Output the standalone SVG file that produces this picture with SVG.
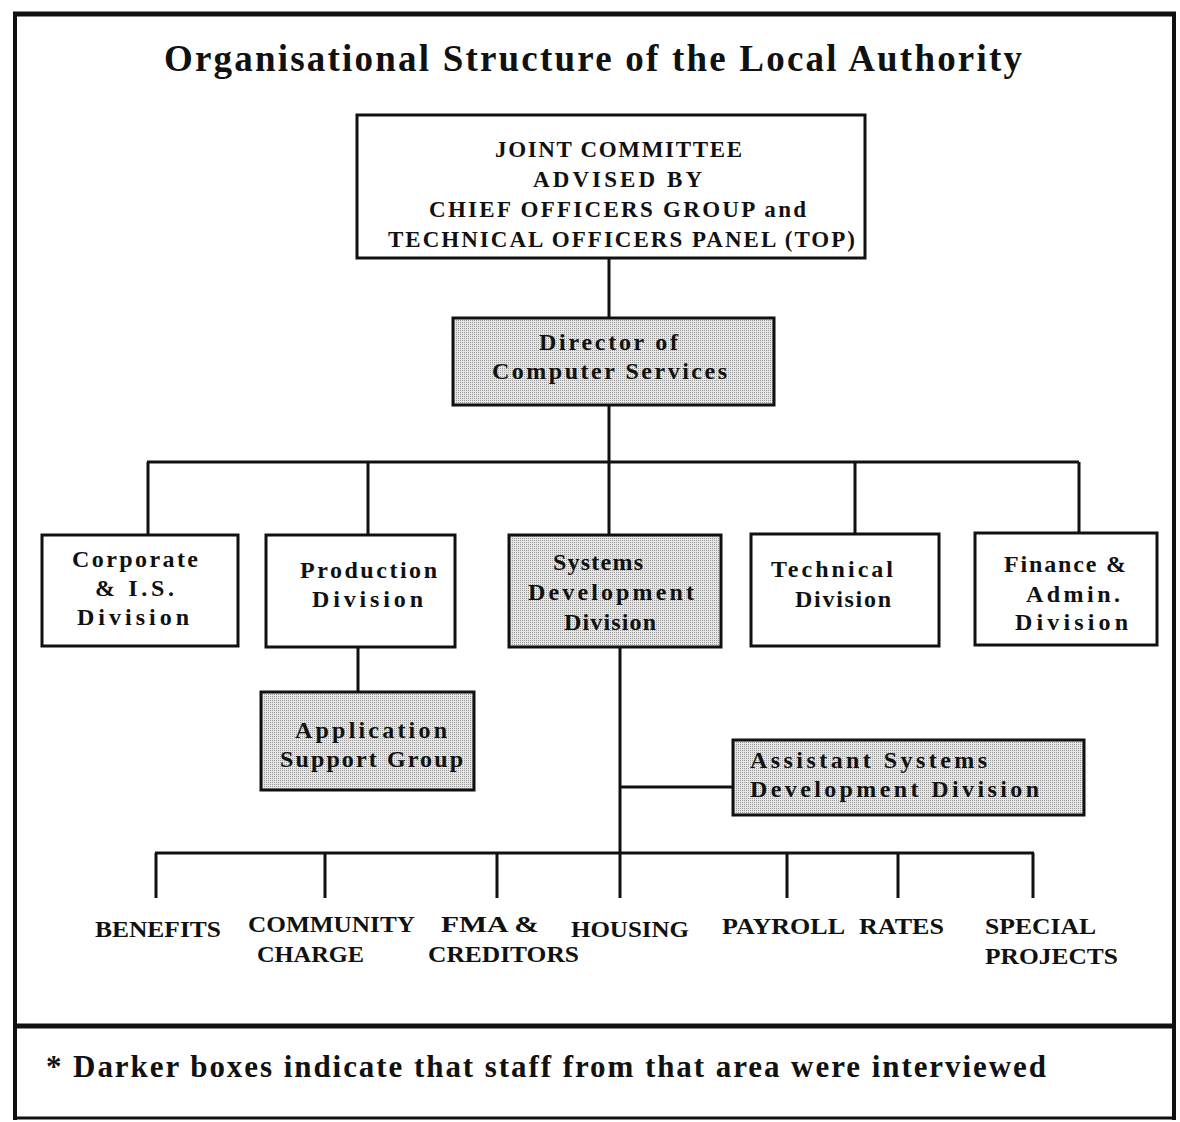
<svg xmlns="http://www.w3.org/2000/svg" width="1180" height="1122" viewBox="0 0 1180 1122">
  <style>
    .frame { fill: none; stroke: #111; }
    .box { fill: #fff; stroke: #111; stroke-width: 3; }
    .shaded { fill: url(#halftone); stroke: #111; stroke-width: 3; }
    .wire { fill: none; stroke: #111; stroke-width: 3; }
    text { font-family: "Liberation Serif", "Times New Roman", serif; font-weight: bold; fill: #111; }
    .title { font-size: 37px; }
    .head { font-size: 23px; }
    .lbl { font-size: 24px; }
    .leaf { font-size: 24px; }
    .note { font-size: 31px; }
  </style>
  <defs>
    <!-- fine dot screen used for the darker boxes -->
    <pattern id="halftone" width="2" height="2" patternUnits="userSpaceOnUse">
      <rect width="2" height="2" fill="#e6e6e6"/>
      <rect x="0" y="0" width="1" height="1" fill="#9a9a9a"/>
    </pattern>
  </defs>

  <rect width="1180" height="1122" fill="#fff"/>

  <!-- outer frame and footer divider -->
  <g id="frame">
    <line class="frame" x1="13" y1="14" x2="1176" y2="14" stroke-width="5"/>
    <line class="frame" x1="15" y1="12" x2="15" y2="1120" stroke-width="4"/>
    <line class="frame" x1="1174" y1="12" x2="1174" y2="1120" stroke-width="4"/>
    <line class="frame" x1="13" y1="1118" x2="1176" y2="1118" stroke-width="3"/>
    <line class="frame" x1="13" y1="1026" x2="1176" y2="1026" stroke-width="5"/>
  </g>

  <text class="title" x="164" y="71" textLength="858" lengthAdjust="spacing">Organisational Structure of the Local Authority</text>

  <!-- connectors -->
  <g id="connectors">
    <path class="wire" d="M609 258 V318"/>
    <path class="wire" d="M609 405 V462"/>
    <path class="wire" d="M147 462 H1079"/>
    <path class="wire" d="M148 462 V535 M368 462 V535 M609 462 V535 M855 462 V534 M1079 462 V533"/>
    <path class="wire" d="M358 647 V692"/>
    <path class="wire" d="M620 647 V898"/>
    <path class="wire" d="M620 787 H733"/>
    <path class="wire" d="M155 853 H1034"/>
    <path class="wire" d="M156 853 V898 M325 853 V898 M497 853 V898 M787 853 V898 M898 853 V898 M1033 853 V898"/>
  </g>

  <g id="joint-committee">
    <rect class="box" x="357" y="115" width="508" height="143"/>
    <text class="head" x="495" y="157" textLength="247" lengthAdjust="spacing">JOINT COMMITTEE</text>
    <text class="head" x="533" y="187" textLength="169" lengthAdjust="spacing">ADVISED  BY</text>
    <text class="head" x="429" y="217" textLength="377" lengthAdjust="spacing">CHIEF OFFICERS GROUP  and</text>
    <text class="head" x="388" y="247" textLength="467" lengthAdjust="spacing">TECHNICAL OFFICERS PANEL (TOP)</text>
  </g>

  <g id="director">
    <rect class="shaded" x="453" y="318" width="321" height="87"/>
    <text class="lbl" x="539" y="350" textLength="139" lengthAdjust="spacing">Director  of</text>
    <text class="lbl" x="492" y="379" textLength="235" lengthAdjust="spacing">Computer  Services</text>
  </g>

  <g id="corporate">
    <rect class="box" x="42" y="535" width="196" height="111"/>
    <text class="lbl" x="72" y="567" textLength="126" lengthAdjust="spacing">Corporate</text>
    <text class="lbl" x="95" y="596" textLength="79" lengthAdjust="spacing">&amp;  I.S.</text>
    <text class="lbl" x="77" y="625" textLength="112" lengthAdjust="spacing">Division</text>
  </g>

  <g id="production">
    <rect class="box" x="266" y="535" width="189" height="112"/>
    <text class="lbl" x="300" y="578" textLength="137" lengthAdjust="spacing">Production</text>
    <text class="lbl" x="312" y="607" textLength="111" lengthAdjust="spacing">Division</text>
  </g>

  <g id="systems-development">
    <rect class="shaded" x="509" y="535" width="212" height="112"/>
    <text class="lbl" x="553" y="570" textLength="90" lengthAdjust="spacing">Systems</text>
    <text class="lbl" x="528" y="600" textLength="166" lengthAdjust="spacing">Development</text>
    <text class="lbl" x="564" y="630" textLength="92" lengthAdjust="spacing">Division</text>
  </g>

  <g id="technical">
    <rect class="box" x="751" y="534" width="188" height="112"/>
    <text class="lbl" x="771" y="577" textLength="122" lengthAdjust="spacing">Technical</text>
    <text class="lbl" x="795" y="607" textLength="96" lengthAdjust="spacing">Division</text>
  </g>

  <g id="finance-admin">
    <rect class="box" x="975" y="533" width="182" height="112"/>
    <text class="lbl" x="1004" y="572" textLength="122" lengthAdjust="spacing">Finance  &amp;</text>
    <text class="lbl" x="1026" y="602" textLength="94" lengthAdjust="spacing">Admin.</text>
    <text class="lbl" x="1015" y="630" textLength="113" lengthAdjust="spacing">Division</text>
  </g>

  <g id="application-support">
    <rect class="shaded" x="261" y="692" width="213" height="98"/>
    <text class="lbl" x="295" y="738" textLength="152" lengthAdjust="spacing">Application</text>
    <text class="lbl" x="280" y="767" textLength="183" lengthAdjust="spacing">Support  Group</text>
  </g>

  <g id="assistant-systems">
    <rect class="shaded" x="733" y="740" width="351" height="75"/>
    <text class="lbl" x="750" y="768" textLength="237" lengthAdjust="spacing">Assistant  Systems</text>
    <text class="lbl" x="750" y="797" textLength="289" lengthAdjust="spacing">Development  Division</text>
  </g>

  <!-- application areas under systems development -->
  <g id="benefits"><text class="leaf" x="95" y="937" textLength="126" lengthAdjust="spacingAndGlyphs">BENEFITS</text></g>
  <g id="community-charge">
    <text class="leaf" x="248" y="932" textLength="167" lengthAdjust="spacingAndGlyphs">COMMUNITY</text>
    <text class="leaf" x="257" y="962" textLength="107" lengthAdjust="spacingAndGlyphs">CHARGE</text>
  </g>
  <g id="fma-creditors">
    <text class="leaf" x="441" y="932" textLength="98" lengthAdjust="spacingAndGlyphs">FMA &amp;</text>
    <text class="leaf" x="428" y="962" textLength="151" lengthAdjust="spacingAndGlyphs">CREDITORS</text>
  </g>
  <g id="housing"><text class="leaf" x="571" y="937" textLength="118" lengthAdjust="spacingAndGlyphs">HOUSING</text></g>
  <g id="payroll"><text class="leaf" x="722" y="934" textLength="123" lengthAdjust="spacingAndGlyphs">PAYROLL</text></g>
  <g id="rates"><text class="leaf" x="859" y="934" textLength="85" lengthAdjust="spacingAndGlyphs">RATES</text></g>
  <g id="special-projects">
    <text class="leaf" x="985" y="934" textLength="111" lengthAdjust="spacingAndGlyphs">SPECIAL</text>
    <text class="leaf" x="985" y="964" textLength="133" lengthAdjust="spacingAndGlyphs">PROJECTS</text>
  </g>

  <text class="note" x="46" y="1077" textLength="1000" lengthAdjust="spacing">* Darker boxes indicate that staff from that area were interviewed</text>
</svg>
